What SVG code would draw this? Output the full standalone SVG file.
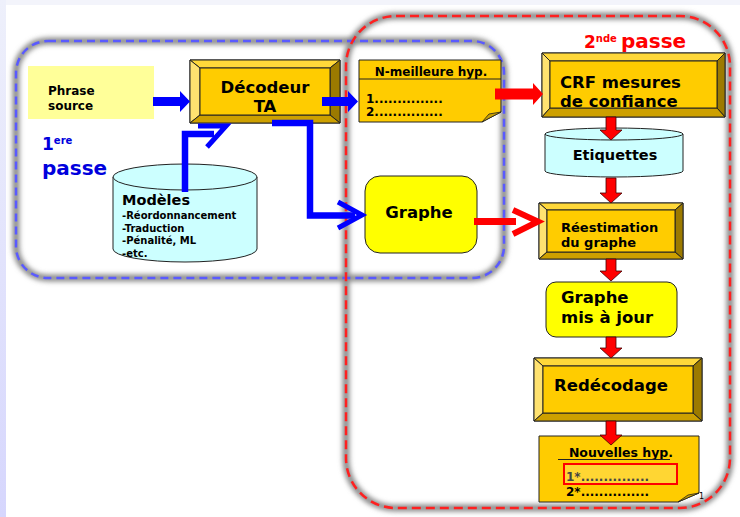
<svg xmlns="http://www.w3.org/2000/svg" width="740" height="517" viewBox="0 0 740 517">
<defs>
<style>
text{font-family:"DejaVu Sans","Liberation Sans",sans-serif;font-weight:bold;fill:#000}
.bv{stroke:#222;stroke-width:1;stroke-linejoin:round}
.bt{fill:#ffd83a}.bl{fill:#ffe270}.br{fill:#9c7a00}.bb{fill:#cda000}.bi{fill:#ffcc00}
.shadow{fill:none;stroke:#8a8a8a;stroke-width:7;filter:url(#blur)}
.blue{stroke:#0000ff;fill:none}
.down{fill:#ff0000;stroke:#400;stroke-width:0.8}
</style>
<filter id="blur" x="-5%" y="-5%" width="110%" height="110%"><feGaussianBlur stdDeviation="2.5"/></filter>
<linearGradient id="lg" x1="0" y1="0" x2="0" y2="1"><stop offset="0" stop-color="#eef0fb"/><stop offset="1" stop-color="#d6d6fd"/></linearGradient>
</defs>
<rect width="740" height="517" fill="#fff"/>
<rect width="740" height="5" fill="#f3f4fb"/>
<rect x="0" y="0" width="6" height="517" fill="url(#lg)"/>

<g id="containers">
<rect class="shadow" x="16" y="41" width="488" height="237" rx="32"/>
<rect class="shadow" x="346" y="16" width="384" height="492" rx="50"/>
<rect x="16" y="41" width="488" height="237" rx="32" fill="none" stroke="#5a5aff" stroke-width="2.5" stroke-dasharray="8 5"/>
<rect x="346" y="16" width="384" height="492" rx="50" fill="none" stroke="#ff2020" stroke-width="2.5" stroke-dasharray="9 5"/>
</g>

<g id="label-passe1">
<text x="42" y="150" font-size="17" style="fill:#0000dd">1<tspan font-size="10" dy="-6">ere</tspan></text>
<text x="42" y="175" font-size="20" style="fill:#0000dd">passe</text>
</g>
<g id="label-passe2">
<text x="584" y="48" font-size="17" style="fill:#ff0000">2<tspan font-size="10" dy="-6">nde</tspan></text>
<text x="621" y="48" font-size="20" style="fill:#ff0000">passe</text>
</g>

<g id="phrase-source">
<rect x="28" y="66" width="126" height="53" fill="#ffff99"/>
<text x="48" y="95" font-size="12">Phrase</text>
<text x="48" y="110" font-size="12">source</text>
</g>

<g id="decodeur">
<polygon class="bv bi" points="190,60 340,60 340,123 190,123"/>
<polygon class="bv bt" points="190,60 340,60 330,68 200,68"/>
<polygon class="bv bl" points="190,60 200,68 200,115 190,123"/>
<polygon class="bv br" points="340,60 340,123 330,115 330,68"/>
<polygon class="bv bb" points="190,123 340,123 330,115 200,115"/>
<rect class="bv bi" x="200" y="68" width="130" height="47"/>
<text x="265" y="93" font-size="16.5" text-anchor="middle">Décodeur</text>
<text x="265" y="112" font-size="16.5" text-anchor="middle">TA</text>
</g>

<g id="modeles">
<path d="M113,177 L113,249 A72,13 0 0 0 257,249 L257,177" fill="#ccffff" stroke="#222" stroke-width="1"/>
<ellipse cx="185" cy="177" rx="72" ry="13" fill="#ccffff" stroke="#222" stroke-width="1"/>
<text x="122" y="205" font-size="14.5">Modèles</text>
<text x="122" y="219" font-size="10">-Réordonnancement</text>
<text x="122" y="232" font-size="10">-Traduction</text>
<text x="122" y="244" font-size="10">-Pénalité, ML</text>
<text x="122" y="257" font-size="10">-etc.</text>
</g>

<g id="n-meilleure">
<polygon points="359,60 501,60 501,112 482,122 359,122" fill="#ffcc00" stroke="#222" stroke-width="1"/>
<polygon points="482,122 489,114 501,112" fill="#c9a000" stroke="#222" stroke-width="0.8"/>
<line x1="359" y1="79" x2="501" y2="79" stroke="#222" stroke-width="1"/>
<text x="431" y="76" font-size="12" text-anchor="middle">N-meilleure hyp.</text>
<text x="366" y="103" font-size="12">1...............</text>
<text x="366" y="116" font-size="12">2...............</text>
</g>

<g id="graphe">
<rect x="365" y="176" width="112" height="77" rx="15" fill="#ffff00" stroke="#222" stroke-width="1"/>
<text x="419" y="218" font-size="16.5" text-anchor="middle">Graphe</text>
</g>

<g id="crf">
<polygon class="bv bi" points="542,53 725,53 725,117 542,117"/>
<polygon class="bv bt" points="542,53 725,53 717,61 550,61"/>
<polygon class="bv bl" points="542,53 550,61 550,108 542,117"/>
<polygon class="bv br" points="725,53 725,117 717,108 717,61"/>
<polygon class="bv bb" points="542,117 725,117 717,108 550,108"/>
<rect class="bv bi" x="550" y="61" width="167" height="47"/>
<text x="560" y="88" font-size="16.5">CRF mesures</text>
<text x="560" y="107" font-size="16.5">de confiance</text>
</g>

<g id="etiquettes">
<path d="M545,134 L545,171 A69,6 0 0 0 683,171 L683,134" fill="#ccffff" stroke="#222" stroke-width="1"/>
<ellipse cx="614" cy="134" rx="69" ry="6" fill="#ccffff" stroke="#222" stroke-width="1"/>
<text x="615" y="160" font-size="14.5" text-anchor="middle">Etiquettes</text>
</g>

<g id="reestimation">
<polygon class="bv bi" points="539,203 683,203 683,259 539,259"/>
<polygon class="bv bt" points="539,203 683,203 675,210 547,210"/>
<polygon class="bv bl" points="539,203 547,210 547,252 539,259"/>
<polygon class="bv br" points="683,203 683,259 675,252 675,210"/>
<polygon class="bv bb" points="539,259 683,259 675,252 547,252"/>
<rect class="bv bi" x="547" y="210" width="128" height="42"/>
<text x="561" y="232" font-size="13">Réestimation</text>
<text x="561" y="247" font-size="13">du graphe</text>
</g>

<g id="graphe-maj">
<rect x="546" y="282" width="131" height="55" rx="10" fill="#ffff00" stroke="#222" stroke-width="1"/>
<text x="561" y="303" font-size="16.5">Graphe</text>
<text x="561" y="323" font-size="16.5">mis à jour</text>
</g>

<g id="redecodage">
<polygon class="bv bi" points="534,358 702,358 702,421 534,421"/>
<polygon class="bv bt" points="534,358 702,358 693,366 543,366"/>
<polygon class="bv bl" points="534,358 543,366 543,413 534,421"/>
<polygon class="bv br" points="702,358 702,421 693,413 693,366"/>
<polygon class="bv bb" points="534,421 702,421 693,413 543,413"/>
<rect class="bv bi" x="543" y="366" width="150" height="47"/>
<text x="554" y="391" font-size="16.5">Redécodage</text>
</g>

<g id="nouvelles">
<polygon points="539,436 699,436 699,493 678,502 539,502" fill="#ffcc00" stroke="#222" stroke-width="1"/>
<polygon points="678,502 688,495 699,493" fill="#c9a000" stroke="#222" stroke-width="0.8"/>
<text x="621" y="457" font-size="12.5" text-anchor="middle">Nouvelles hyp.</text>
<line x1="558" y1="459.5" x2="670" y2="459.5" stroke="#222" stroke-width="1"/>
<rect x="564" y="464" width="113" height="20" fill="#ffd633" stroke="#ff0000" stroke-width="2"/>
<text x="566" y="481" font-size="12" style="fill:#444">1*...............</text>
<text x="566" y="496" font-size="12">2*...............</text>
<text x="699" y="499" font-size="8" style="font-weight:normal">1</text>
</g>

<g id="connectors">
<polygon points="153,97 180,97 180,91 190,101.5 180,112 180,106 153,106" fill="#0000ff"/>
<polygon points="322,97 348,97 348,91 358,101.5 348,112 348,106 322,106" fill="#0000ff"/>
<polyline class="blue" points="272,123 310,123 310,215.5 355,215.5" stroke-width="6.5"/>
<polyline class="blue" points="338,202 362,215 338,228" stroke-width="5"/>
<polyline class="blue" points="185,192 185,134 214,134" stroke-width="6.5"/>
<polyline class="blue" points="198,126 226,126 207,147" stroke-width="5"/>
<polygon points="495,88.5 533,88.5 533,83 543,94 533,105 533,99.5 495,99.5" fill="#ff0000"/>
<line x1="474" y1="221.5" x2="516" y2="221.5" stroke="#ff0000" stroke-width="7"/>
<polyline points="513,210 538,221.5 513,234" fill="none" stroke="#ff0000" stroke-width="6"/>
<polygon class="down" points="606,117 616,117 616,130 622,130 611,140 600,130 606,130"/>
<polygon class="down" points="606,178 616,178 616,193 622,193 611,203 600,193 606,193"/>
<polygon class="down" points="606,259 616,259 616,271 622,271 611,281 600,271 606,271"/>
<polygon class="down" points="606,337 616,337 616,348 622,348 611,358 600,348 606,348"/>
<polygon class="down" points="606,421 616,421 616,435 622,435 611,445 600,435 606,435"/>
</g>
</svg>
